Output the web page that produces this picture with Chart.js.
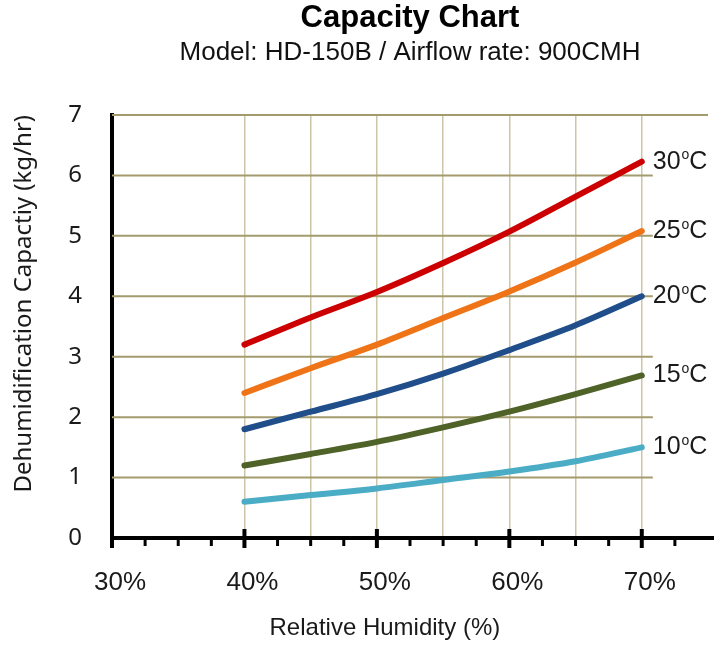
<!DOCTYPE html>
<html>
<head>
  <title>Capacity Chart</title>
  <script src="https://cdn.jsdelivr.net/npm/chart.js"></script>
  <style>
    body { margin: 0; background: #fff; }
  </style>
</head>
<body>
  <canvas id="chart" width="714" height="648"></canvas>

  <script>
    // values
    const humidity = [40, 45, 50, 55, 60, 65, 70];
    const cap30 = [3.2, 3.65, 4.07, 4.55, 5.07, 5.65, 6.23];
    const cap25 = [2.4, 2.81, 3.2, 3.64, 4.08, 4.56, 5.08];
    const cap20 = [1.8, 2.09, 2.38, 2.72, 3.11, 3.52, 4.0];
    const cap15 = [1.2, 1.39, 1.59, 1.83, 2.09, 2.38, 2.69];
    const cap10 = [0.6, 0.71, 0.82, 0.96, 1.1, 1.27, 1.5];
    const temps = ['30', '25', '20', '15', '10'];
    const colors = ['#cc0000', '#ef7317', '#1f4e8a', '#4f6228', '#4bacc6'];

    const series = [cap30, cap25, cap20, cap15, cap10];

    const labelFont = '"Liberation Sans", Arial, sans-serif';

    // horizontal grid lines stop where the temperature labels start
    const hGrid = {
      id: 'hGrid',
      beforeDatasetsDraw(chart) {
        const {ctx, chartArea, scales: {x, y}} = chart;
        ctx.save();
        ctx.strokeStyle = '#a39b6e';
        ctx.lineWidth = 2;
        y.ticks.forEach(t => {
          if (t.value === y.min) return;
          const py = y.getPixelForValue(t.value);
          const end = t.value === y.max ? chartArea.right : x.getPixelForValue(70) + 11;
          ctx.beginPath();
          ctx.moveTo(chartArea.left, py);
          ctx.lineTo(end, py);
          ctx.stroke();
        });
        ctx.restore();
      }
    };

    // x axis line with major / minor tick marks, plus the x title
    const xAxisDraw = {
      id: 'xAxisDraw',
      afterDraw(chart) {
        const {ctx, chartArea, scales: {x}} = chart;
        const b = chartArea.bottom;
        ctx.save();
        ctx.strokeStyle = '#000';
        ctx.lineWidth = 4;
        ctx.beginPath();
        ctx.moveTo(chartArea.left - 2, b);
        ctx.lineTo(chart.width, b);
        ctx.stroke();
        x.ticks.forEach(t => {
          const px = x.getPixelForValue(t.value);
          if (t.value === x.max) return;
          ctx.beginPath();
          if (t.value === x.min) {
            ctx.lineWidth = 4;
            ctx.moveTo(px, b);
            ctx.lineTo(px, b + 10);
          } else if (t.value % 10 === 0) {
            ctx.lineWidth = 4;
            ctx.moveTo(px, b - 9);
            ctx.lineTo(px, b + 10);
          } else {
            ctx.lineWidth = 3;
            ctx.moveTo(px, b);
            ctx.lineTo(px, b + 8);
          }
          ctx.stroke();
        });
        ctx.fillStyle = '#1a1a1a';
        ctx.font = '24px ' + labelFont;
        ctx.textAlign = 'center';
        ctx.textBaseline = 'middle';
        const cx = (x.getPixelForValue(30) + x.getPixelForValue(70)) / 2 + 8;
        ctx.fillText('Relative Humidity (%)', cx, 628);
        ctx.restore();
      }
    };

    // "30ºC" style labels at the end of each curve
    const endLabels = {
      id: 'endLabels',
      afterDatasetsDraw(chart) {
        const {ctx} = chart;
        ctx.save();
        ctx.fillStyle = '#1a1a1a';
        ctx.textBaseline = 'alphabetic';
        ctx.textAlign = 'left';
        chart.data.datasets.forEach((ds, i) => {
          const pts = chart.getDatasetMeta(i).data;
          const p = pts[pts.length - 1];
          let tx = p.x + 11;
          const base = p.y - 2 + 9;
          ctx.font = '25px ' + labelFont;
          ctx.fillText(temps[i], tx, base);
          tx += ctx.measureText(temps[i]).width + 1;
          ctx.font = '14px ' + labelFont;
          ctx.fillText('o', tx, base - 9.5);
          tx += ctx.measureText('o').width;
          ctx.font = '25px ' + labelFont;
          ctx.fillText('C', tx, base);
        });
        ctx.restore();
      }
    };

    new Chart(document.getElementById('chart'), {
      type: 'line',
      data: {
        datasets: series.map((vals, i) => ({
          label: temps[i] + '°C',
          data: humidity.map((h, j) => ({x: h, y: vals[j]})),
          borderColor: colors[i],
          borderWidth: 6,
          borderCapStyle: 'round',
          pointRadius: 0,
          cubicInterpolationMode: 'monotone',
          fill: false
        }))
      },
      options: {
        responsive: false,
        animation: false,
        layout: { padding: { left: 0, right: 6, top: 0, bottom: 0 } },
        plugins: {
          legend: { display: false },
          tooltip: { enabled: false },
          title: {
            display: true,
            text: 'Capacity Chart',
            fullSize: false,
            color: '#000',
            font: { family: labelFont, size: 31, weight: 'bold', lineHeight: 1.2 },
            padding: { top: 0, bottom: 0 }
          },
          subtitle: {
            display: true,
            text: 'Model: HD-150B / Airflow rate: 900CMH',
            fullSize: false,
            color: '#111',
            font: { family: labelFont, size: 26, lineHeight: 1.2 },
            padding: { top: 0, bottom: 46.6 }
          }
        },
        scales: {
          x: {
            type: 'linear',
            min: 30,
            max: 75,
            afterFit: s => {
              s.height = 110;
              s.paddingLeft = 0;
              s.paddingRight = 0;
            },
            ticks: {
              stepSize: 2.5,
              autoSkip: false,
              maxRotation: 0,
              padding: 29,
              labelOffset: 8,
              color: '#1a1a1a',
              font: { family: labelFont, size: 26 },
              callback: v => (v % 10 === 0 && v < 75) ? v + '%' : ''
            },
            grid: {
              drawTicks: false,
              lineWidth: 1.5,
              color: c => (c.tick && c.tick.value >= 40 && c.tick.value <= 70 && c.tick.value % 5 === 0) ? '#cdc6a6' : 'rgba(0,0,0,0)'
            },
            border: { display: false }
          },
          y: {
            min: 0,
            max: 7,
            afterFit: s => { s.width = 112; },
            ticks: {
              stepSize: 1,
              padding: 30,
              color: '#1a1a1a',
              font: { family: '"Noto Sans", sans-serif', size: 24 }
            },
            grid: { display: false, drawTicks: false },
            border: { display: true, color: '#000', width: 4 },
            title: {
              display: true,
              text: 'Dehumidification Capactiy (kg/hr)',
              align: 'end',
              color: '#1a1a1a',
              font: { family: '"Noto Sans", sans-serif', size: 24, lineHeight: 1.2 },
              padding: { top: 10, bottom: 0 }
            }
          }
        }
      },
      plugins: [hGrid, xAxisDraw, endLabels]
    });
  </script>
</body>
</html>
